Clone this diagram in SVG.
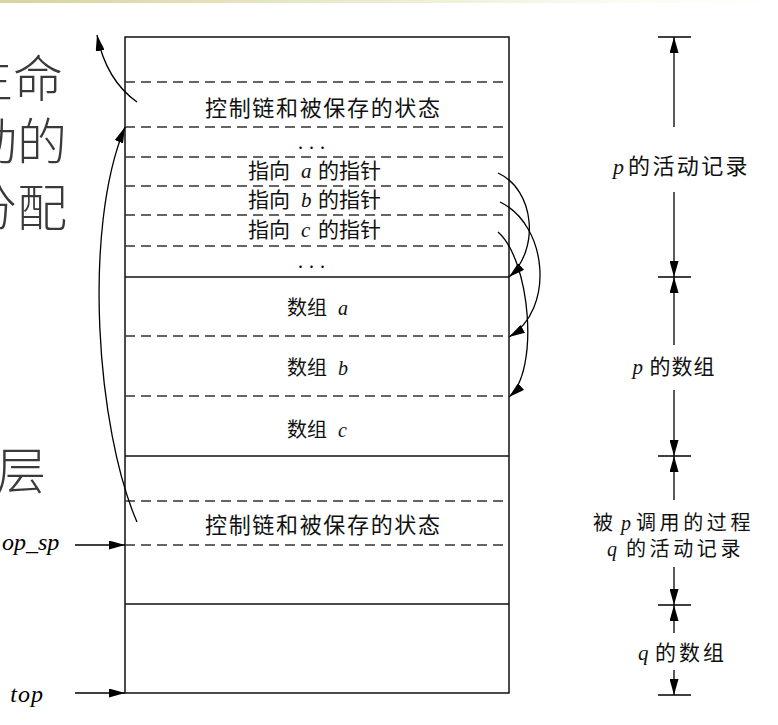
<svg xmlns="http://www.w3.org/2000/svg" width="778" height="725" viewBox="0 0 778 725">
<style>
.cjk{font-family:"Noto Sans CJK SC","Liberation Serif",sans-serif;fill:#111}
.big{font-family:"Noto Sans CJK SC",sans-serif;font-size:50px;fill:#3a3a3a;font-weight:300}
.it{font-family:"Liberation Serif",serif;font-style:italic}
.solid{stroke:#111;stroke-width:1.5;fill:none}
.dash{stroke:#333;stroke-width:1.3;stroke-dasharray:10 6;fill:none}
.con{stroke:#000;stroke-width:1.3;fill:none}
</style>
<defs>
<linearGradient id="band" x1="0" y1="0" x2="1" y2="0">
<stop offset="0" stop-color="#d4d4a4"/>
<stop offset="0.8" stop-color="#fbfbf4"/>
<stop offset="1" stop-color="#ffffff"/>
</linearGradient>
<marker id="ah" viewBox="0 0 16 9" refX="16" refY="4.5" markerWidth="16" markerHeight="9" markerUnits="userSpaceOnUse" orient="auto">
<path d="M0,0 L16,4.5 L0,9 z" fill="#000"/>
</marker>
</defs>
<rect x="0" y="0" width="778" height="725" fill="#fff"/>
<rect x="0" y="0" width="778" height="3" fill="url(#band)"/>

<g id="side-text">
<text class="big" x="-37" y="97">生命</text>
<text class="big" x="-33" y="160">动的</text>
<text class="big" x="-33" y="226">分配</text>
<text class="big" x="-4" y="489" font-size="44">层</text>
</g>

<g id="stack">
<rect class="solid" x="125" y="37" width="384" height="656"/>
<line class="dash" x1="125" y1="82" x2="509" y2="82"/>
<line class="dash" x1="125" y1="127" x2="509" y2="127"/>
<line class="dash" x1="125" y1="157" x2="509" y2="157"/>
<line class="dash" x1="125" y1="186" x2="509" y2="186"/>
<line class="dash" x1="125" y1="215" x2="509" y2="215"/>
<line class="dash" x1="125" y1="246" x2="509" y2="246"/>
<line class="solid" x1="125" y1="277" x2="509" y2="277"/>
<line class="dash" x1="125" y1="336" x2="509" y2="336"/>
<line class="dash" x1="125" y1="396" x2="509" y2="396"/>
<line class="solid" x1="125" y1="456" x2="509" y2="456"/>
<line class="dash" x1="125" y1="501" x2="509" y2="501"/>
<line class="dash" x1="125" y1="545" x2="509" y2="545"/>
<line class="solid" x1="125" y1="604" x2="509" y2="604"/>
</g>

<g id="p-control">
<text class="cjk" x="205" y="116" font-size="22" textLength="235" lengthAdjust="spacing">控制链和被保存的状态</text>
</g>
<g id="dots1"><text class="it" x="315" y="149" font-size="20" text-anchor="middle" font-style="normal" letter-spacing="6">...</text></g>
<g id="ptr-a"><text class="cjk" x="248" y="178" font-size="21">指向 <tspan class="it" x="301">a</tspan> <tspan x="318">的指针</tspan></text></g>
<g id="ptr-b"><text class="cjk" x="248" y="207" font-size="21">指向 <tspan class="it" x="301">b</tspan> <tspan x="318">的指针</tspan></text></g>
<g id="ptr-c"><text class="cjk" x="248" y="237" font-size="21">指向 <tspan class="it" x="301">c</tspan> <tspan x="318">的指针</tspan></text></g>
<g id="dots2"><text class="it" x="315" y="268" font-size="20" text-anchor="middle" font-style="normal" letter-spacing="6">...</text></g>
<g id="arr-a"><text class="cjk" x="287" y="315" font-size="20">数组 <tspan class="it" x="338">a</tspan></text></g>
<g id="arr-b"><text class="cjk" x="287" y="375" font-size="20">数组 <tspan class="it" x="338">b</tspan></text></g>
<g id="arr-c"><text class="cjk" x="287" y="437" font-size="20">数组 <tspan class="it" x="338">c</tspan></text></g>
<g id="q-control">
<text class="cjk" x="205" y="533" font-size="22" textLength="235" lengthAdjust="spacing">控制链和被保存的状态</text>
</g>

<g id="ptr-labels">
<text class="it" y="550" font-size="24"><tspan x="-12">t</tspan><tspan x="2">op_sp</tspan></text>
<text class="it" x="44" y="702" font-size="24" text-anchor="end" letter-spacing="1">top</text>
</g>

<g id="right-labels">
<text class="cjk" x="613" y="174" font-size="22"><tspan class="it">p</tspan> <tspan x="628" letter-spacing="2.4">的活动记录</tspan></text>
<text class="cjk" x="674" y="374" font-size="21" text-anchor="middle" letter-spacing="1"><tspan class="it">p</tspan> 的数组</text>
<text class="cjk" x="593" y="530" font-size="20">被 <tspan class="it" x="621">p</tspan> <tspan x="636" letter-spacing="3.6">调用的过程</tspan></text>
<text class="cjk" x="607" y="556" font-size="20"><tspan class="it">q</tspan> <tspan x="626" letter-spacing="3.6">的活动记录</tspan></text>
<text class="cjk" x="638" y="660" font-size="21"><tspan class="it">q</tspan> <tspan x="655" letter-spacing="3">的数组</tspan></text>
</g>

<g id="connectors">
<line class="con" x1="75" y1="545" x2="125" y2="545" marker-end="url(#ah)"/>
<line class="con" x1="75" y1="693" x2="125" y2="693" marker-end="url(#ah)"/>
<path class="con" d="M137,102 Q106,80 97,35" marker-end="url(#ah)"/>
<path class="con" d="M137,522 C97,430 82,230 125,127" marker-end="url(#ah)"/>
<path class="con" d="M498,173 C535,190 540,250 509,277" marker-end="url(#ah)"/>
<path class="con" d="M500,202 C548,225 555,310 509,337" marker-end="url(#ah)"/>
<path class="con" d="M498,232 C530,260 540,370 509,397" marker-end="url(#ah)"/>
<line class="con" x1="658" y1="37" x2="691" y2="37"/>
<line class="con" x1="658" y1="277" x2="691" y2="277"/>
<line class="con" x1="658" y1="456" x2="691" y2="456"/>
<line class="con" x1="658" y1="605" x2="691" y2="605"/>
<line class="con" x1="658" y1="695" x2="691" y2="695"/>
<line class="con" x1="674" y1="127" x2="674" y2="37" marker-end="url(#ah)"/>
<line class="con" x1="674" y1="192" x2="674" y2="277" marker-end="url(#ah)"/>
<line class="con" x1="674" y1="345" x2="674" y2="277" marker-end="url(#ah)"/>
<line class="con" x1="674" y1="390" x2="674" y2="456" marker-end="url(#ah)"/>
<line class="con" x1="674" y1="500" x2="674" y2="456" marker-end="url(#ah)"/>
<line class="con" x1="674" y1="567" x2="674" y2="605" marker-end="url(#ah)"/>
<line class="con" x1="674" y1="633" x2="674" y2="605" marker-end="url(#ah)"/>
<line class="con" x1="674" y1="670" x2="674" y2="695" marker-end="url(#ah)"/>
</g>
</svg>
